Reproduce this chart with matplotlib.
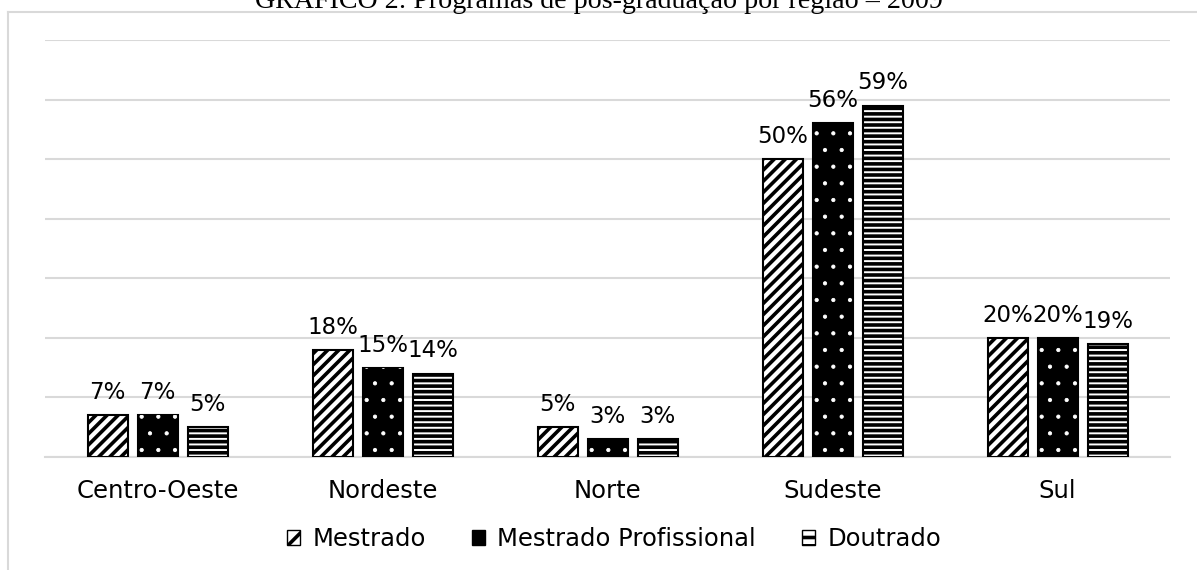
import numpy as np
import matplotlib
matplotlib.use("Agg")
import matplotlib.pyplot as plt
from matplotlib.patches import Patch
from matplotlib.lines import Line2D

# data
regions = ["Centro-Oeste", "Nordeste", "Norte", "Sudeste", "Sul"]
series = ["Mestrado", "Mestrado Profissional", "Doutrado"]
mestrado = [7, 18, 5, 50, 20]
mestrado_prof = [7, 15, 3, 56, 20]
doutrado = [5, 14, 3, 59, 19]
title = "GRÁFICO 2: Programas de pós-graduação por região – 2009"

plt.rcParams["font.family"] = ["DejaVu Sans"]
plt.rcParams["hatch.linewidth"] = 2.6

W, H = 1197, 570
FS = 16.5      # data labels
FS_AX = 17.5   # category ticks and legend
fig = plt.figure(figsize=(W / 100, H / 100), dpi=100)
ax = fig.add_axes([45 / W, 1 - 457 / H, 1125 / W, 417 / H])

x = np.arange(len(regions))
bw = 40 / 225
off = 50 / 225
GRID = "#d9d9d9"

ax.bar(x - off, mestrado, bw, facecolor="white", edgecolor="black",
       hatch="///", linewidth=1.5, zorder=3)
# black bars with small white dots
ax.bar(x, mestrado_prof, bw, facecolor="black", edgecolor="black",
       linewidth=1.5, zorder=3)
dots = ax.bar(x, mestrado_prof, bw, fill=False, edgecolor="white", hatch=".",
              linewidth=0, zorder=4)
for p in dots:
    if hasattr(p, "set_hatch_linewidth"):
        p.set_hatch_linewidth(0.6)
ax.bar(x + off, doutrado, bw, facecolor="white", edgecolor="black",
       hatch="---", linewidth=1.5, zorder=3)

for vals, dx in [(mestrado, -off), (mestrado_prof, 0), (doutrado, off)]:
    for xi, v in zip(x, vals):
        ax.annotate(f"{v}%", (xi + dx, v), xytext=(0, 8),
                    textcoords="offset points", ha="center", va="bottom",
                    fontsize=FS)

ax.set_xlim(-0.5, 4.5)
ax.set_ylim(0, 70)
ax.set_yticks(np.arange(0, 71, 10))
ax.yaxis.grid(True, color=GRID, linewidth=1.5, zorder=0)
ax.set_yticklabels([])
ax.tick_params(axis="y", length=0)
ax.set_xticks(x)
ax.set_xticklabels(regions, fontsize=FS_AX)
ax.tick_params(axis="x", length=0, pad=16)
for s in ["top", "right", "left"]:
    ax.spines[s].set_visible(False)
ax.spines["bottom"].set_color(GRID)
ax.spines["bottom"].set_linewidth(1.5)

handles = [
    Patch(facecolor="white", edgecolor="black", hatch="//"),
    Patch(facecolor="black", edgecolor="black"),
    Patch(facecolor="white", edgecolor="black", hatch="--"),
]
fig.legend(handles, series, loc="center", bbox_to_anchor=(614 / W, 1 - 539 / H),
           ncol=3, frameon=False, fontsize=FS_AX, handlelength=0.55,
           handleheight=0.55, handletextpad=0.5, columnspacing=1.9)

# frame (top and left edges only) and title
fy = 1 - 12 / H
fx = 8 / W
fig.add_artist(Line2D([fx, 1.0], [fy, fy], transform=fig.transFigure,
                      color=GRID, linewidth=1.5))
fig.add_artist(Line2D([fx, fx], [0.0, fy], transform=fig.transFigure,
                      color=GRID, linewidth=1.5))
fig.text(599 / W, 1 - 7.5 / H, title, ha="center", va="baseline",
         fontsize=20.2, family="Liberation Serif")

fig.savefig("out.png", dpi=100)
